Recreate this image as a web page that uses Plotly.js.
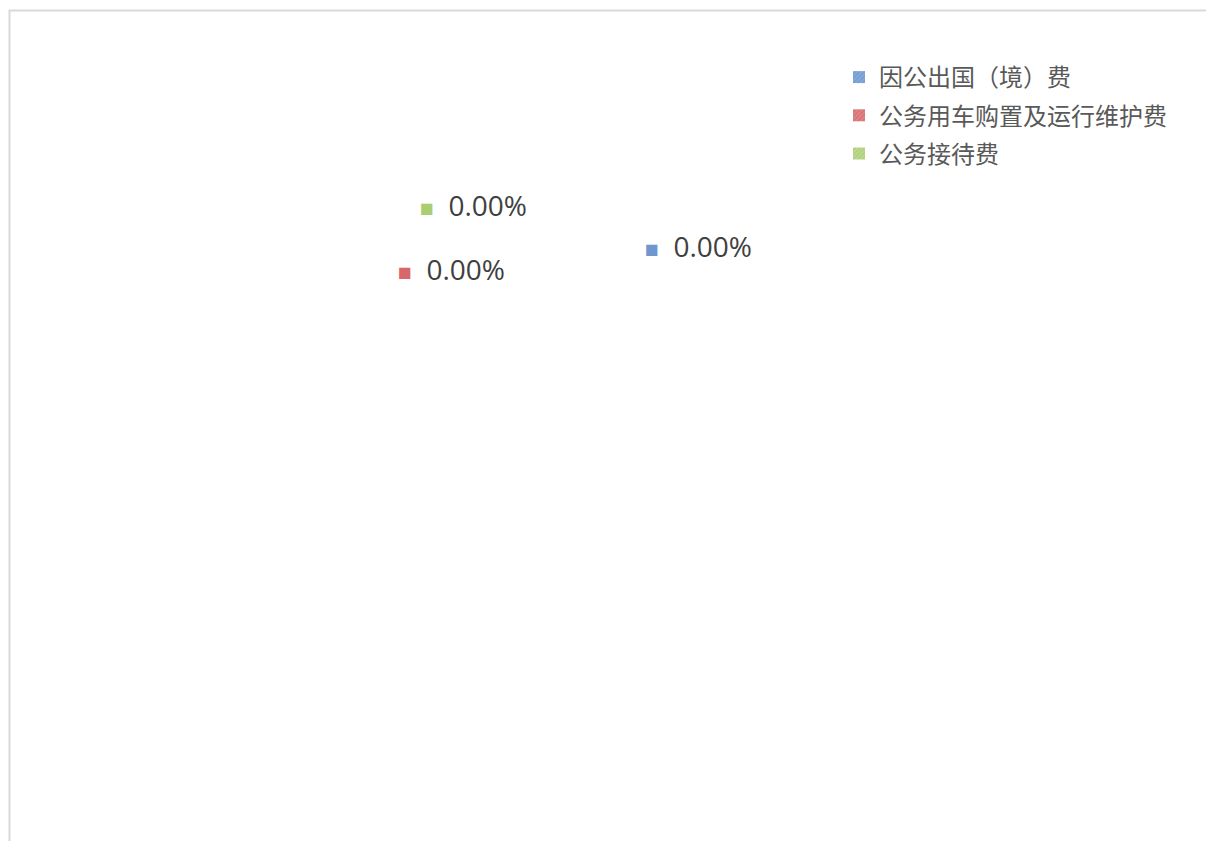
<!DOCTYPE html>
<html>
<head>
<meta charset="utf-8">
<script src="https://cdn.plot.ly/plotly-3.0.1.min.js"></script>
<style>
html,body{margin:0;padding:0;background:#fff;}
#chart{width:1206px;height:841px;}
</style>
</head>
<body>
<div id="chart"></div>
<script>
const categories = ['因公出国（境）费', '公务用车购置及运行维护费', '公务接待费'];
const values = [0, 0, 0];
const fillColors = ['#86A9DA', '#E08386', '#BCD98F'];
const hatchColors = ['#4F81BD', '#C0504D', '#9BBB59'];
const squareColors = ['#6F96CF', '#D8676B', '#A9CD73'];
// label positions (paper coords) for each category's data label
const labelPos = [[0.533, 0.708], [0.328, 0.680], [0.3465, 0.756]];

const W = 1206, H = 841;
const total = values.reduce((a, b) => a + b, 0);
const pctText = v => ((total > 0 ? v / total : 0) * 100).toFixed(2) + '%';

// All slices are zero, so the pie itself is empty; zero-height bars on hidden axes carry the legend.
const traces = categories.map((c, i) => ({
  type: 'bar',
  name: c,
  x: [c],
  y: [values[i]],
  legendgroup: 'g' + i,
  hoverinfo: 'name',
  marker: {
    color: fillColors[i],
    line: {width: 0},
    pattern: {shape: '/', fgcolor: hatchColors[i], size: 4, solidity: 0.3, fillmode: 'overlay'}
  },
  showlegend: true
}));

const annotations = categories.map((c, i) => ({
  xref: 'paper', yref: 'paper',
  x: labelPos[i][0], y: labelPos[i][1],
  xanchor: 'left', yanchor: 'middle',
  showarrow: false,
  text: '<span style="color:' + squareColors[i] + ';font-size:23px">■</span>&nbsp; ' + pctText(values[i]),
  font: {family: 'Open Sans, Noto Sans, sans-serif', size: 28, color: '#404040'}
}));

const layout = {
  width: W, height: H,
  margin: {l: 0, r: 0, t: 0, b: 0},
  paper_bgcolor: '#ffffff',
  plot_bgcolor: '#ffffff',
  xaxis: {visible: false, fixedrange: true},
  yaxis: {visible: false, range: [0, 1], fixedrange: true},
  showlegend: true,
  legend: {
    x: 839 / W, y: 1 - 55 / H, xanchor: 'left', yanchor: 'top',
    traceorder: 'grouped', tracegroupgap: 4,
    font: {family: 'Noto Sans CJK SC, sans-serif', size: 24, color: '#595959'},
    itemwidth: 30, bgcolor: 'rgba(0,0,0,0)'
  },
  annotations: annotations,
  shapes: [{
    type: 'rect', xref: 'paper', yref: 'paper',
    x0: 9.5 / W, x1: 1.01, y0: -0.01, y1: 1 - 10.5 / H,
    line: {color: '#d9d9d9', width: 2}
  }]
};

Plotly.newPlot('chart', traces, layout, {staticPlot: true, displayModeBar: false});
</script>
</body>
</html>
